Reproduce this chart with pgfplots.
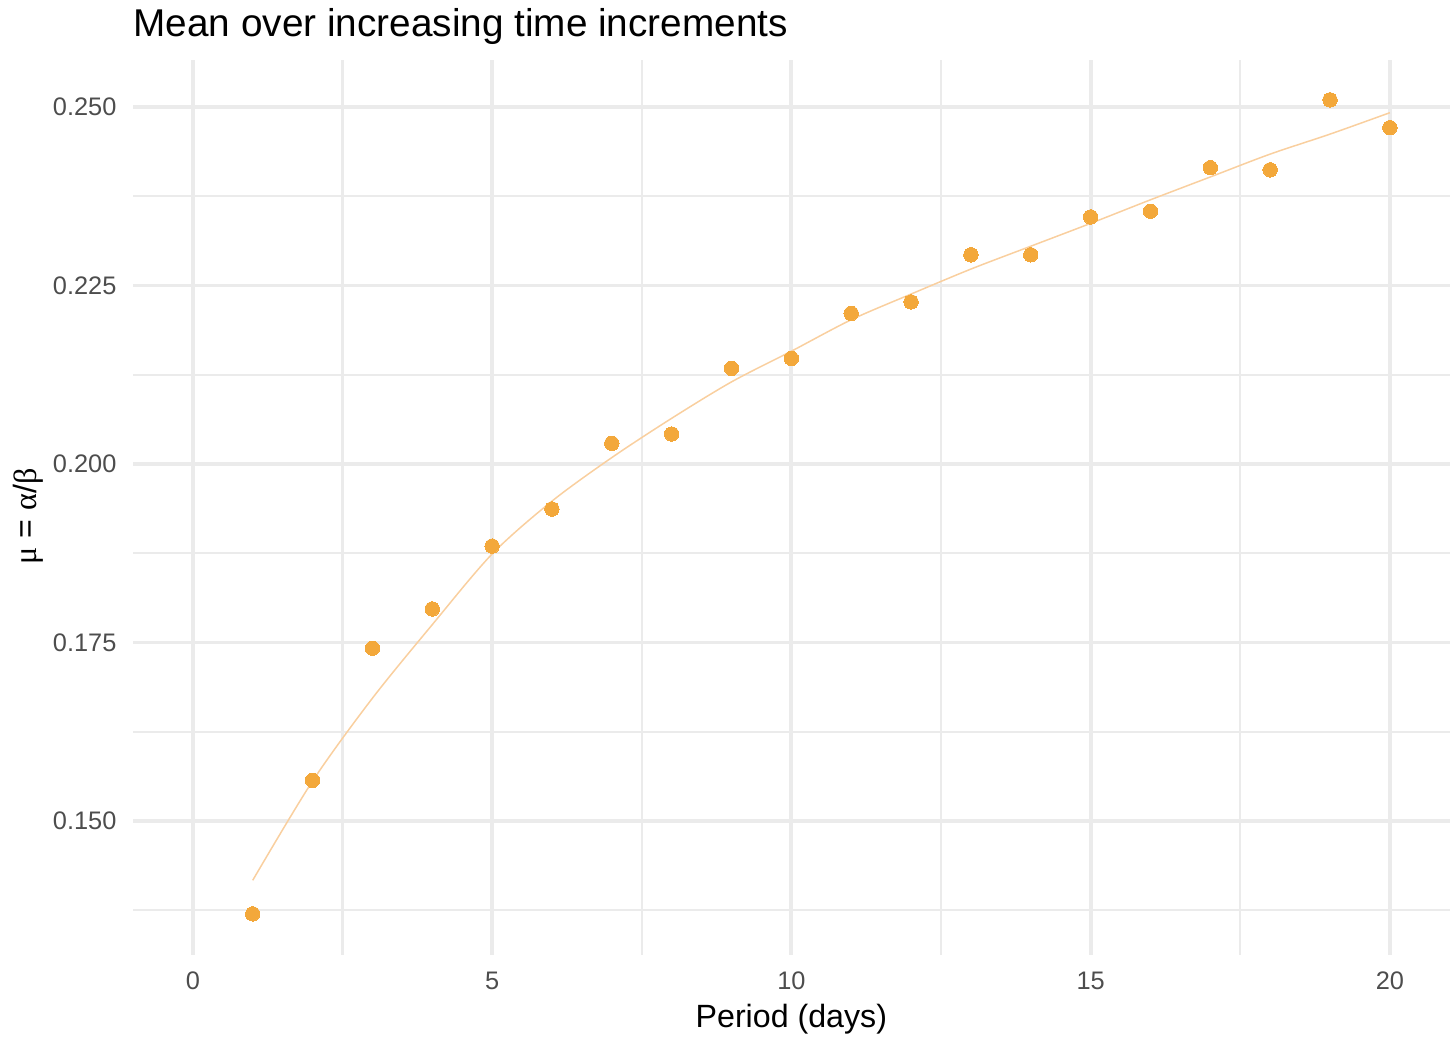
\documentclass[border=0pt]{standalone}
\usepackage{fontspec}
\setmainfont{Liberation Sans}
\newfontfamily\greekserif{Liberation Serif}
\usepackage{pgfplots}
\pgfplotsset{compat=1.18}
\definecolor{ptcol}{HTML}{F3A83B}
\definecolor{fitcol}{HTML}{F9CF9F}
\definecolor{gridcol}{HTML}{EBEBEB}
\definecolor{tickcol}{HTML}{4D4D4D}
\begin{document}
\begin{tikzpicture}
\begin{axis}[
  scale only axis,
  width=482.8pt, height=328.2pt,
  xmin=-1, xmax=21, ymin=0.13123, ymax=0.25658,
  enlargelimits=false,
  clip=false,
  axis line style={draw=none},
  major tick length=0pt, minor tick length=0pt,
  xtick={0,5,10,15,20},
  xticklabels={0,5,10,15,20},
  ytick={0.150,0.175,0.200,0.225,0.250},
  yticklabels={0.150,0.175,0.200,0.225,0.250},
  minor xtick={2.5,7.5,12.5,17.5},
  minor ytick={0.1375,0.1625,0.1875,0.2125,0.2375},
  grid=both,
  major grid style={gridcol, line width=1.4pt},
  minor grid style={gridcol, line width=0.75pt},
  /pgf/number format/assume math mode=true,
  xticklabel style={font=\fontsize{9.3}{11}\selectfont, text=tickcol, anchor=base, inner sep=0pt, yshift=-12.47pt},
  yticklabel style={font=\fontsize{9.3}{11}\selectfont, text=tickcol, anchor=east, inner sep=0pt, xshift=-5.87pt},
]
\addplot[fitcol, line width=0.55pt, smooth, tension=0.5] coordinates {
(1,0.1417) (2,0.1556) (3,0.1672) (4,0.1775) (5,0.1874) (6,0.1948) (7,0.2009)
(8,0.2064) (9,0.2115) (10,0.2158) (11,0.2202) (12,0.2238) (13,0.2273)
(14,0.2305) (15,0.2337) (16,0.2370) (17,0.2402) (18,0.2434) (19,0.2462) (20,0.2492)
};
\addplot[only marks, mark=*, mark size=2.65pt, mark options={fill=ptcol, draw=ptcol, line width=0pt}] coordinates {
(1,0.1370) (2,0.1557) (3,0.1742) (4,0.1797) (5,0.1885) (6,0.1937) (7,0.2029)
(8,0.2042) (9,0.2134) (10,0.2148) (11,0.2211) (12,0.2227) (13,0.2293)
(14,0.2293) (15,0.2346) (16,0.2354) (17,0.2415) (18,0.2412) (19,0.2510) (20,0.2471)
};
\node[anchor=base west, inner sep=0pt, font=\fontsize{14.2}{17}\selectfont] at (axis description cs:0,1.0257) {Mean over increasing time increments};
\node[anchor=base, inner sep=0pt, font=\fontsize{11.8}{14}\selectfont] at (axis description cs:0.5,-0.0804) {Period (days)};
\node[anchor=base, inner sep=0pt, rotate=90, font=\fontsize{11.8}{14}\selectfont] at (axis description cs:-0.07367,0.49) {{\greekserif μ} = {\greekserif α}/{\greekserif β}};
\path (axis description cs:-0.10101,-0.09721) rectangle (axis description cs:1.00327,1.06704);
\end{axis}
\end{tikzpicture}
\end{document}
